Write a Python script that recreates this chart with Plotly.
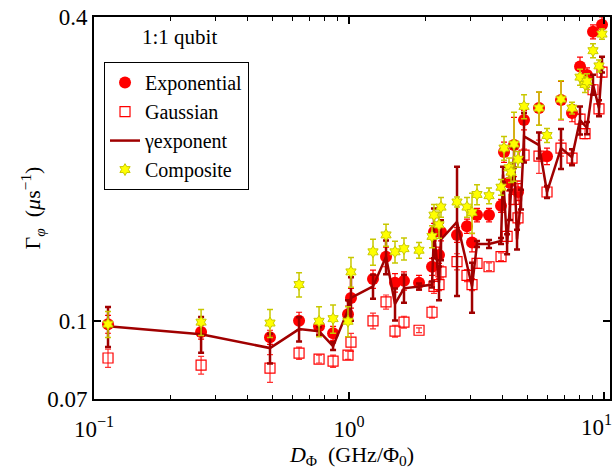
import plotly.graph_objects as go

# ---------------- data ----------------
x_exp = [0.1135, 0.263, 0.490, 0.637, 0.763, 0.866, 0.991, 1.018, 1.242, 1.397, 1.515, 1.643,
         1.882, 2.116, 2.154, 2.254, 2.295, 2.652, 2.902, 3.037, 3.177, 3.541, 3.946, 4.054,
         4.241, 4.437, 4.60, 4.857, 5.560, 5.977, 6.782, 7.491, 8.052, 8.577, 9.054, 9.821]
y_exp = [0.0985, 0.0950, 0.0928, 0.100, 0.0976, 0.0945, 0.103, 0.111, 0.121, 0.134, 0.119, 0.120,
         0.119, 0.128, 0.150, 0.135, 0.150, 0.148, 0.154, 0.143, 0.162, 0.162, 0.169, 0.216,
         0.188, 0.223, 0.180, 0.250, 0.264, 0.212, 0.274, 0.258, 0.319, 0.307, 0.374, 0.386]
e_exp = [0.004, 0.003, 0.003, 0.004, 0.003, 0.003, 0.004, 0.005, 0.005, 0.006, 0.005, 0.005,
         0.004, 0.005, 0.006, 0.005, 0.006, 0.005, 0.005, 0.006, 0.005, 0.005, 0.005, 0.010,
         0.007, 0.030, 0.007, 0.011, 0.020, 0.008, 0.024, 0.010, 0.014, 0.010, 0.012, 0.014]

x_gau = [0.1135, 0.263, 0.490, 0.637, 0.763, 0.866, 0.991, 1.018, 1.242, 1.397, 1.515, 1.643,
         1.882, 2.116, 2.154, 2.254, 2.295, 2.652, 2.902, 3.037, 3.177, 3.541, 3.946, 4.168,
         4.437, 4.559, 4.60, 4.857, 5.560, 5.977, 6.782, 7.491, 8.052, 8.424, 9.054, 9.558, 9.821]
y_gau = [0.0844, 0.0817, 0.0806, 0.0863, 0.0840, 0.0832, 0.0855, 0.0907, 0.100, 0.109, 0.0954, 0.0994,
         0.0958, 0.104, 0.117, 0.118, 0.125, 0.131, 0.123, 0.118, 0.130, 0.128, 0.134, 0.147,
         0.174, 0.185, 0.160, 0.213, 0.212, 0.180, 0.220, 0.210, 0.251, 0.235, 0.287, 0.263, 0.311]
e_gau = [0.0035, 0.0033, 0.0051, 0.0024, 0.0015, 0.0023, 0.0016, 0.0037, 0.0036, 0.0035, 0.0026, 0.0027,
         0.0010, 0.0028, 0.0037, 0.0032, 0.0034, 0.0048, 0.0034, 0.0032, 0.0030, 0.0023, 0.0024, 0.0034,
         0.0040, 0.0042, 0.0044, 0.0058, 0.0160, 0.0041, 0.0080, 0.0048, 0.0057, 0.0054, 0.0065, 0.0060, 0.0071]

x_gam = [0.1135, 0.263, 0.490, 0.637, 0.763, 0.866, 0.991, 1.018, 1.242, 1.397, 1.515, 1.643,
         1.882, 2.116, 2.154, 2.254, 2.295, 2.652, 3.037, 3.177, 3.541, 3.946, 4.018, 4.168,
         4.280, 4.437, 4.559, 4.727, 4.857, 5.560, 5.977, 6.782, 7.491, 8.052, 8.577, 9.054, 9.558, 9.821]
y_gam = [0.0976, 0.0941, 0.0883, 0.0963, 0.0954, 0.0891, 0.105, 0.111, 0.117, 0.134, 0.108, 0.116,
         0.117, 0.118, 0.150, 0.119, 0.145, 0.157, 0.117, 0.142, 0.142, 0.144, 0.195, 0.142,
         0.170, 0.211, 0.145, 0.174, 0.232, 0.223, 0.180, 0.220, 0.211, 0.250, 0.241, 0.294, 0.264, 0.322]
e_gam = [0.0089, 0.0077, 0.0060, 0.0053, 0.0017, 0.0016, 0.0048, 0.0110, 0.0064, 0.0103, 0.0079, 0.0074,
         0.0016, 0.0016, 0.0170, 0.0092, 0.0132, 0.0450, 0.0133, 0.0019, 0.0026, 0.0020, 0.0070, 0.0065,
         0.0116, 0.0096, 0.0066, 0.0079, 0.0260, 0.0132, 0.0049, 0.0200, 0.0077, 0.0160, 0.0066, 0.0134, 0.0096, 0.0116]

x_cmp = [0.1135, 0.263, 0.490, 0.637, 0.763, 0.866, 0.991, 1.018, 1.242, 1.397, 1.515, 1.643,
         1.882, 2.116, 2.154, 2.254, 2.295, 2.652, 2.902, 3.037, 3.177, 3.541, 3.946, 4.054,
         4.241, 4.319, 4.437, 4.60, 4.857, 5.560, 5.977, 6.782, 7.491, 8.052, 8.424, 8.577,
         9.054, 9.558, 9.821]
y_cmp = [0.0985, 0.0994, 0.0990, 0.118, 0.0998, 0.101, 0.0998, 0.125, 0.137, 0.148, 0.137, 0.139,
         0.138, 0.147, 0.162, 0.155, 0.168, 0.172, 0.168, 0.164, 0.178, 0.177, 0.184, 0.220,
         0.201, 0.197, 0.224, 0.209, 0.266, 0.264, 0.233, 0.275, 0.264, 0.304, 0.294, 0.298,
         0.343, 0.320, 0.370]
e_cmp = [0.0058, 0.0059, 0.0063, 0.0065, 0.0068, 0.0065, 0.0068, 0.0085, 0.0081, 0.0074, 0.0068, 0.0070,
         0.0050, 0.0074, 0.0081, 0.0092, 0.0076, 0.0039, 0.0076, 0.0150, 0.0081, 0.0064, 0.0066, 0.0120,
         0.0091, 0.0090, 0.0350, 0.0075, 0.0146, 0.0200, 0.0075, 0.0240, 0.0071, 0.0110, 0.0106, 0.0107,
         0.0110, 0.0087, 0.0085]

x_tickvals = [0.1, 1, 10]
x_ticktext = ["10<sup>−1</sup>", "10<sup>0</sup>", ""]
x_last_label = "10<sup>1</sup>"
x_minor = [0.2, 0.3, 0.4, 0.5, 0.6, 0.7, 0.8, 0.9, 2, 3, 4, 5, 6, 7, 8, 9]
y_tickvals = [0.07, 0.1, 0.4]
y_ticktext = ["0.07", "0.1", "0.4"]

# ---------------- styling ----------------
FONT = "Liberation Serif"
RED = "#FF0000"
DARKRED = "#A00000"
YEL = "#FFFF00"
OLIVE = "#C8C800"

fig = go.Figure()

fig.add_trace(go.Scatter(
    x=x_exp, y=y_exp, mode="markers", name="Exponential",
    marker=dict(symbol="circle", size=12, color=RED, line=dict(width=0)),
    error_y=dict(type="data", array=e_exp, visible=True, color=RED, thickness=1.2, width=3),
))
fig.add_trace(go.Scatter(
    x=x_gau, y=y_gau, mode="markers", name="Gaussian",
    marker=dict(symbol="square-open", size=10, color=RED, line=dict(width=1.2, color=RED)),
    error_y=dict(type="data", array=e_gau, visible=True, color="#FF3030", thickness=1.2, width=3),
))
fig.add_trace(go.Scatter(
    x=x_gam, y=y_gam, mode="lines", name="γexponent",
    line=dict(color=DARKRED, width=2.5),
    error_y=dict(type="data", array=e_gam, visible=True, color=DARKRED, thickness=2.5, width=3),
))
fig.add_trace(go.Scatter(
    x=x_cmp, y=y_cmp, mode="markers", name="Composite",
    marker=dict(symbol="hexagram", size=9, color=YEL, line=dict(width=1, color=OLIVE)),
    error_y=dict(type="data", array=e_cmp, visible=True, color=OLIVE, thickness=1.5, width=3),
))

axis_common = dict(
    showline=True, linecolor="black", linewidth=2, mirror="ticks",
    ticks="inside", tickcolor="black", tickwidth=1.5, ticklen=7,
    showgrid=False, zeroline=False, automargin=False,
    tickfont=dict(family=FONT, size=23, color="black"),
)

fig.update_xaxes(
    type="log", range=[-1, 1.0235],
    tickmode="array", tickvals=x_tickvals, ticktext=x_ticktext,
    minor=dict(tickvals=x_minor, ticks="inside", ticklen=4, tickcolor="black", tickwidth=1.2),
    ticklabelstandoff=8,
    title=dict(text="<i>D</i><sub>Φ</sub>  (GHz/Φ<sub>0</sub>)",
               font=dict(family=FONT, size=22, color="black"), standoff=4),
    **axis_common,
)
fig.update_yaxes(
    type="log", range=[-1.15490, -0.39794],
    tickmode="array", tickvals=y_tickvals, ticktext=y_ticktext,
    title=dict(text="Γ<sub><i>φ</i></sub>  (<i>μ</i>s<sup>−1</sup>)",
               font=dict(family=FONT, size=22, color="black"), standoff=0),
    **axis_common,
)

# last x tick label, right-aligned so it stays inside the figure
fig.add_annotation(
    x=1, xref="x", y=0, yref="paper", xanchor="right", yanchor="top",
    xshift=10, yshift=-10,
    text=x_last_label, showarrow=False,
    font=dict(family=FONT, size=23, color="black"),
)

fig.add_annotation(
    x=0.09, y=0.985, xref="paper", yref="paper", xanchor="left", yanchor="top",
    text="1:1 qubit", showarrow=False,
    font=dict(family=FONT, size=21, color="black"),
)

fig.update_layout(
    width=616, height=473,
    margin=dict(l=94, r=6, t=17, b=74),
    paper_bgcolor="white", plot_bgcolor="white",
    showlegend=True,
    legend=dict(
        x=0.0194, y=0.882, xanchor="left", yanchor="top",
        bgcolor="white", bordercolor="black", borderwidth=1,
        font=dict(family=FONT, size=20, color="black"),
        itemwidth=30, tracegroupgap=0,
    ),
)

fig.write_html("out.html")
